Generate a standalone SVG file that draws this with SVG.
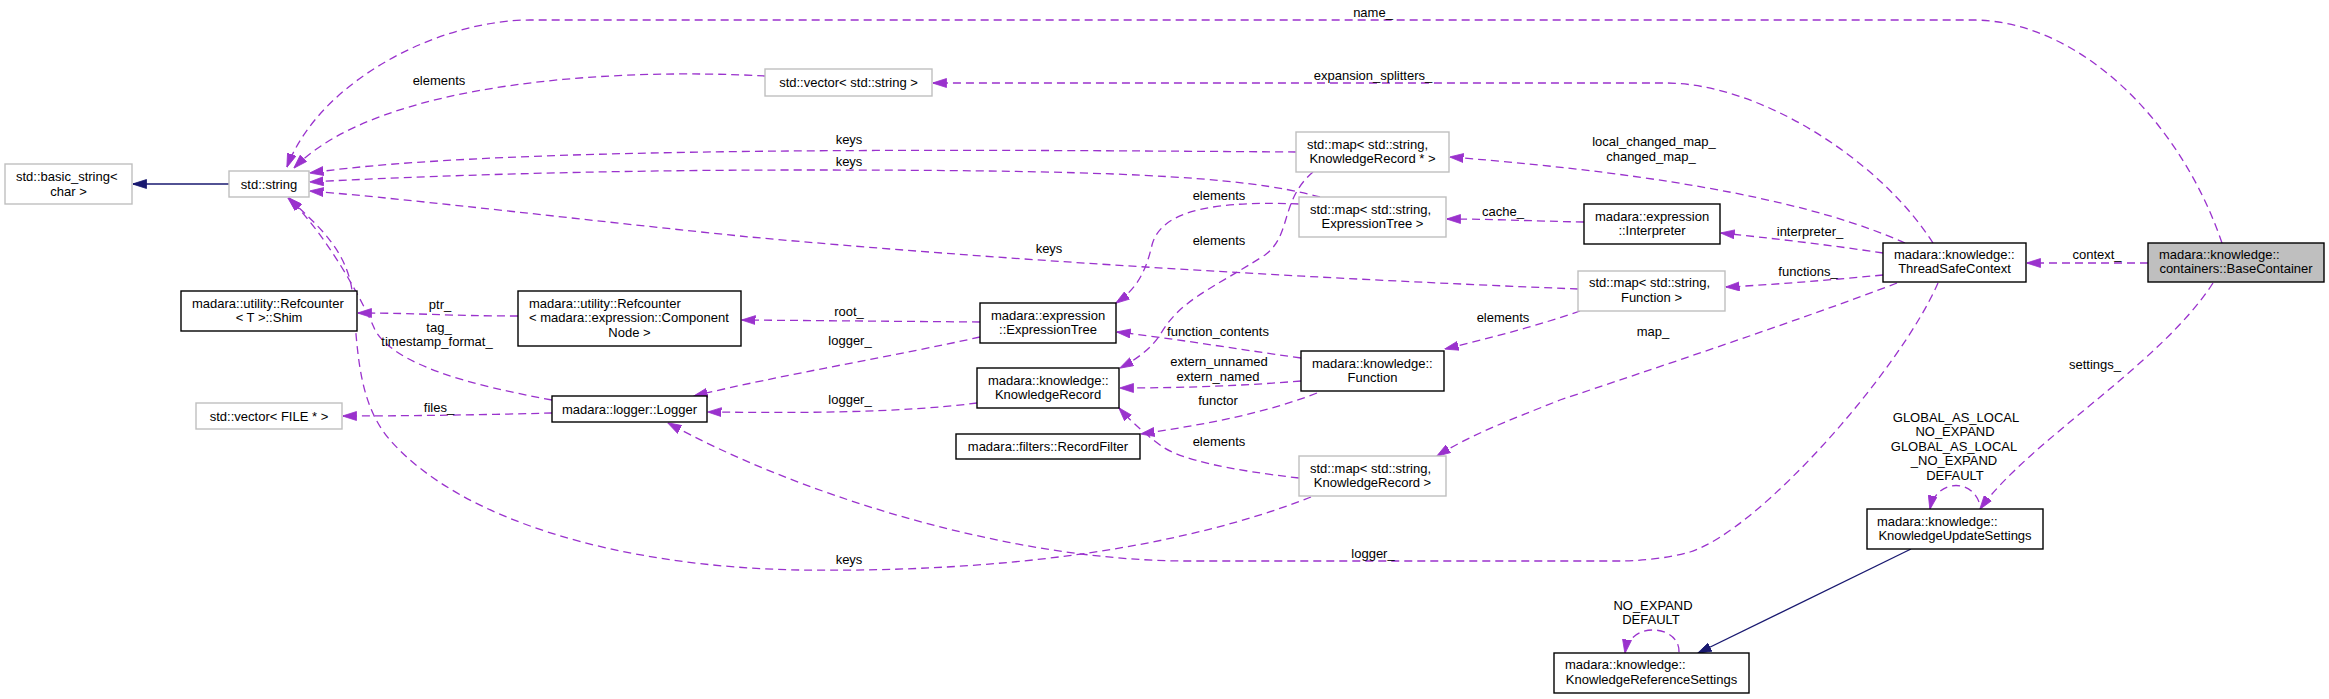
<svg xmlns="http://www.w3.org/2000/svg" width="2329" height="699" viewBox="0 0 2329 699">
<style>
text{font-family:"Liberation Sans",Arial,Helvetica,sans-serif;font-size:13px;fill:#000}
.c{text-anchor:middle}
.nd{fill:#fff;stroke:#000;stroke-width:1.4}
.ng{fill:#fff;stroke:#bfbfbf;stroke-width:1.4}
.nm{fill:#bfbfbf;stroke:#000;stroke-width:1.4}
.e{fill:none;stroke:#9a32cd;stroke-width:1.3;stroke-dasharray:8,5;marker-end:url(#ap)}
.i{fill:none;stroke:#191970;stroke-width:1.3;marker-end:url(#ab)}
</style>
<defs>
<marker id="ap" markerUnits="userSpaceOnUse" markerWidth="14" markerHeight="10" viewBox="0 0 14 10" refX="13.5" refY="5" orient="auto"><path d="M0,0.5 L14,5 L0,9.5 z" fill="#9a32cd" stroke="#9a32cd" stroke-width="0.8"/></marker>
<marker id="ab" markerUnits="userSpaceOnUse" markerWidth="14" markerHeight="10" viewBox="0 0 14 10" refX="13.5" refY="5" orient="auto"><path d="M0,0.5 L14,5 L0,9.5 z" fill="#191970" stroke="#191970" stroke-width="0.8"/></marker>
</defs>
<rect width="2329" height="699" fill="#fff"/>
<g id="edges">
<path class="i" d="M229,184 L133,184"/>
<path class="e" d="M2222,243 C2180,120 2080,22 1975,20 L530,20 C440,20 320,80 287,167"/>
<path class="e" d="M765,76 C620,68 380,80 294,168"/>
<path class="e" d="M1933,243 C1880,160 1760,83 1665,83 L933,83"/>
<path class="e" d="M1296,152 C1000,150 500,145 310,173"/>
<path class="e" d="M1320,197 C1240,175 1100,170 800,170 C600,170 420,176 310,182"/>
<path class="e" d="M1578,289 C1300,278 1000,260 750,237 C600,222 420,200 310,191"/>
<path class="e" d="M552,400 C470,385 395,365 375,330 C362,300 330,240 289,198"/>
<path class="e" d="M1311,497 C1150,560 950,572 800,570 C620,567 460,520 390,440 C355,400 358,340 352,290 C346,250 318,225 288,198"/>
<path class="e" d="M518,316 C450,316 420,313 358,313"/>
<path class="e" d="M980,322 L742,320"/>
<path class="e" d="M980,337 C900,355 780,375 694,396"/>
<path class="e" d="M977,403 C900,413 800,413 708,412"/>
<path class="e" d="M552,413 C480,415 400,416 343,416"/>
<path class="e" d="M1938,283 C1900,370 1760,530 1690,552 C1670,558 1640,561 1620,561 L1184,561 C1000,560 790,490 668,423"/>
<path class="e" d="M1299,204 C1200,200 1160,215 1152,245 C1145,275 1135,290 1116,303"/>
<path class="e" d="M1313,172 C1280,200 1292,235 1265,255 C1210,290 1180,300 1160,335 C1150,350 1135,360 1120,368"/>
<path class="e" d="M1301,358 C1230,348 1170,338 1117,332"/>
<path class="e" d="M1301,381 C1240,386 1180,388 1120,388"/>
<path class="e" d="M1317,393 C1260,415 1200,425 1141,434"/>
<path class="e" d="M1299,478 C1230,470 1180,460 1160,445 C1140,430 1128,418 1119,408"/>
<path class="e" d="M1580,311 C1540,325 1490,338 1445,349"/>
<path class="e" d="M1584,222 C1530,221 1490,219 1447,219"/>
<path class="e" d="M1883,253 C1830,245 1770,238 1721,233"/>
<path class="e" d="M1883,275 C1830,280 1770,285 1726,287"/>
<path class="e" d="M1905,243 C1820,205 1680,175 1450,157"/>
<path class="e" d="M1897,283 C1800,320 1650,370 1560,400 C1510,420 1470,435 1437,456"/>
<path class="e" d="M2148,263 L2027,263"/>
<path class="e" d="M2213,283 C2160,365 2030,440 1980,509"/>
<path class="e" d="M1979,502 C1970,478 1936,480 1930,509"/>
<path class="e" d="M1679,652 C1680,625 1630,620 1625,653"/>
<path class="i" d="M1911,549 L1698,653"/>
</g>
<g id="edge-labels">
<text class="c" x="1373" y="16.5">name_</text>
<text class="c" x="439" y="84.5">elements</text>
<text class="c" x="1373" y="79.5">expansion_splitters_</text>
<text class="c" x="849" y="143.5">keys</text>
<text class="c" x="849" y="165.5">keys</text>
<text class="c" x="1049" y="252.5">keys</text>
<text class="c" x="849" y="563.5">keys</text>
<text class="c" x="439" y="331.5">tag_</text>
<text class="c" x="437" y="345.5">timestamp_format_</text>
<text class="c" x="440" y="308.5">ptr_</text>
<text class="c" x="849" y="316">root_</text>
<text class="c" x="850" y="344.5">logger_</text>
<text class="c" x="850" y="404">logger_</text>
<text class="c" x="439" y="411.5">files_</text>
<text class="c" x="1373" y="557.5">logger_</text>
<text class="c" x="1219" y="199.5">elements</text>
<text class="c" x="1219" y="244.5">elements</text>
<text class="c" x="1218" y="335.5">function_contents</text>
<text class="c" x="1219" y="365.5">extern_unnamed</text>
<text class="c" x="1218" y="380.5">extern_named</text>
<text class="c" x="1218" y="404.5">functor</text>
<text class="c" x="1219" y="445.5">elements</text>
<text class="c" x="1503" y="215.5">cache_</text>
<text class="c" x="1503" y="321.5">elements</text>
<text class="c" x="1654" y="145.5">local_changed_map_</text>
<text class="c" x="1651" y="160.5">changed_map_</text>
<text class="c" x="1810" y="235.5">interpreter_</text>
<text class="c" x="1808" y="275.5">functions_</text>
<text class="c" x="1653" y="335.5">map_</text>
<text class="c" x="2097" y="258.5">context_</text>
<text class="c" x="2095" y="368.5">settings_</text>
<text class="c" x="1956" y="421.5">GLOBAL_AS_LOCAL</text>
<text class="c" x="1955" y="436">NO_EXPAND</text>
<text class="c" x="1954" y="450.5">GLOBAL_AS_LOCAL</text>
<text class="c" x="1954" y="465">_NO_EXPAND</text>
<text class="c" x="1955" y="480">DEFAULT</text>
<text class="c" x="1653" y="609.5">NO_EXPAND</text>
<text class="c" x="1651" y="624">DEFAULT</text>
</g>
<g id="n_basic_string"><rect class="ng" x="5" y="164" width="127" height="40"/><text x="16" y="181">std::basic_string&lt;</text><text class="c" x="68.5" y="195.5">char &gt;</text></g>
<g id="n_string"><rect class="ng" x="229" y="171" width="80" height="26"/><text class="c" x="269" y="188.5">std::string</text></g>
<g id="n_shim"><rect class="nd" x="181" y="291" width="176" height="40"/><text x="192" y="307.5">madara::utility::Refcounter</text><text class="c" x="269" y="321.5">&lt; T &gt;::Shim</text></g>
<g id="n_refcounter_cn"><rect class="nd" x="518" y="291" width="223" height="55"/><text x="529" y="307.5">madara::utility::Refcounter</text><text x="529" y="322">&lt; madara::expression::Component</text><text class="c" x="629.5" y="336.5">Node &gt;</text></g>
<g id="n_vector_file"><rect class="ng" x="196" y="403" width="146" height="26"/><text class="c" x="269" y="420.5">std::vector&lt; FILE * &gt;</text></g>
<g id="n_logger"><rect class="nd" x="552" y="396" width="155" height="26"/><text class="c" x="629.5" y="413.5">madara::logger::Logger</text></g>
<g id="n_vector_string"><rect class="ng" x="765" y="69" width="167" height="27"/><text class="c" x="848.5" y="87">std::vector&lt; std::string &gt;</text></g>
<g id="n_expression_tree"><rect class="nd" x="980" y="303" width="136" height="40"/><text x="991" y="319.5">madara::expression</text><text class="c" x="1048" y="333.5">::ExpressionTree</text></g>
<g id="n_knowledge_record"><rect class="nd" x="977" y="368" width="142" height="40"/><text x="988" y="384.5">madara::knowledge::</text><text class="c" x="1048" y="398.5">KnowledgeRecord</text></g>
<g id="n_record_filter"><rect class="nd" x="956" y="434" width="184" height="25"/><text class="c" x="1048" y="451">madara::filters::RecordFilter</text></g>
<g id="n_map_kr_ptr"><rect class="ng" x="1296" y="132" width="153" height="40"/><text x="1307" y="148.5">std::map&lt; std::string,</text><text class="c" x="1372.5" y="163">KnowledgeRecord * &gt;</text></g>
<g id="n_map_et"><rect class="ng" x="1299" y="197" width="147" height="40"/><text x="1310" y="213.5">std::map&lt; std::string,</text><text class="c" x="1372.5" y="228">ExpressionTree &gt;</text></g>
<g id="n_function"><rect class="nd" x="1301" y="351" width="143" height="40"/><text x="1312" y="367.5">madara::knowledge::</text><text class="c" x="1372.5" y="381.5">Function</text></g>
<g id="n_map_kr"><rect class="ng" x="1299" y="456" width="147" height="40"/><text x="1310" y="472.5">std::map&lt; std::string,</text><text class="c" x="1372.5" y="487">KnowledgeRecord &gt;</text></g>
<g id="n_interpreter"><rect class="nd" x="1584" y="204" width="136" height="40"/><text x="1595" y="220.5">madara::expression</text><text class="c" x="1652" y="235">::Interpreter</text></g>
<g id="n_map_function"><rect class="ng" x="1578" y="271" width="147" height="40"/><text x="1589" y="287">std::map&lt; std::string,</text><text class="c" x="1651.5" y="301.5">Function &gt;</text></g>
<g id="n_thread_safe_context"><rect class="nd" x="1883" y="243" width="143" height="39"/><text x="1894" y="258.5">madara::knowledge::</text><text class="c" x="1954.5" y="272.5">ThreadSafeContext</text></g>
<g id="n_base_container"><rect class="nm" x="2148" y="243" width="176" height="39"/><text x="2159" y="258.5">madara::knowledge::</text><text class="c" x="2236" y="272.5">containers::BaseContainer</text></g>
<g id="n_update_settings"><rect class="nd" x="1867" y="509" width="176" height="40"/><text x="1877" y="525.5">madara::knowledge::</text><text class="c" x="1955" y="539.5">KnowledgeUpdateSettings</text></g>
<g id="n_reference_settings"><rect class="nd" x="1554" y="653" width="195" height="40"/><text x="1565" y="669">madara::knowledge::</text><text class="c" x="1651.5" y="683.5">KnowledgeReferenceSettings</text></g>
</svg>
